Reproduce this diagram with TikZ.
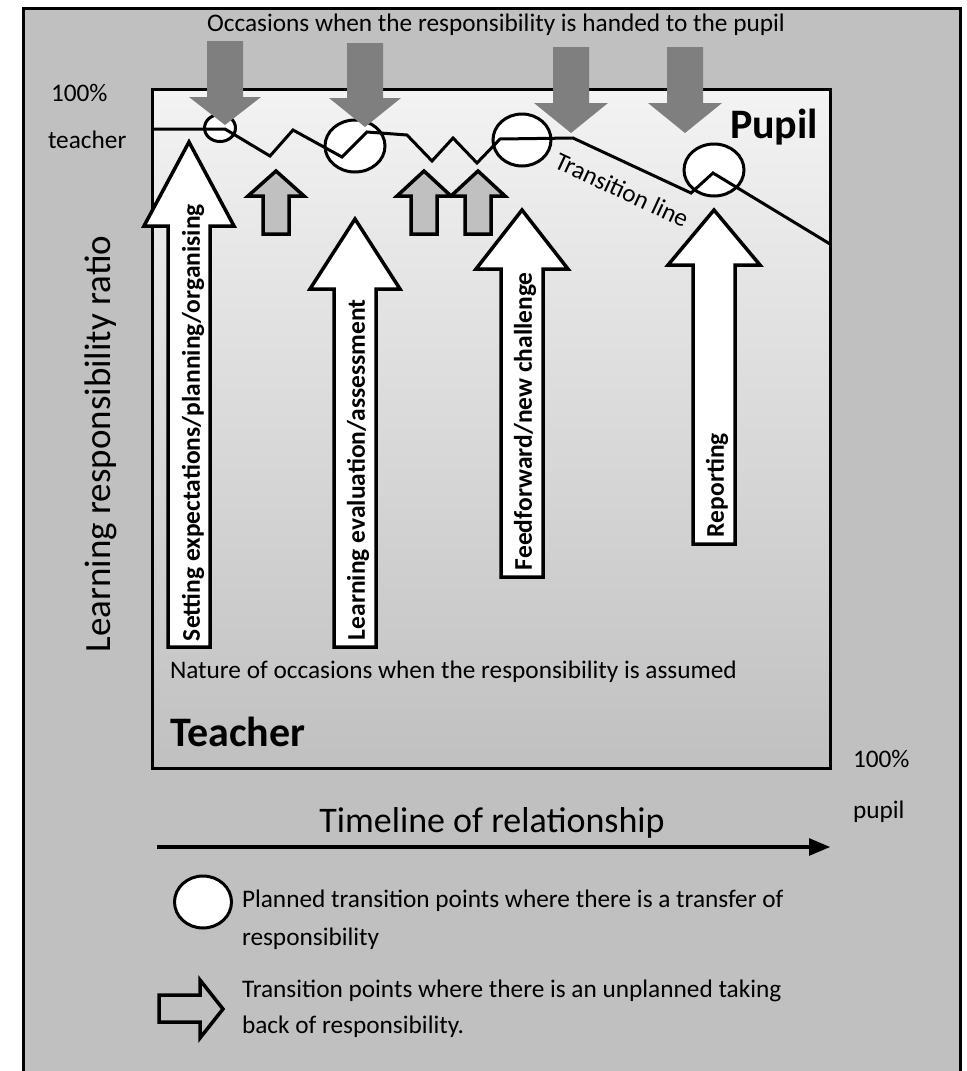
\documentclass[tikz,border=0pt]{standalone}
\usepackage{fontspec}
\setmainfont{Carlito}
\usepackage{tikz}
\usetikzlibrary{shapes,arrows}
\definecolor{bgGrey}{RGB}{192,192,192}
\definecolor{handGrey}{RGB}{127,127,127}
\definecolor{topGrey}{RGB}{243,243,243}

\begin{document}
\begin{tikzpicture}[x=1bp, y=-1bp, line join=miter]%
  \tikzset{hand arrow/.style={fill=handGrey, draw=none},
    back arrow/.style={fill=bgGrey, draw=black, line width=3.5bp},
    occasion arrow/.style={fill=white, draw=black, line width=3.5bp},
    transition point/.style={ellipse, draw=black, fill=white, line width=3bp, inner sep=0pt},
    big label/.style={font=\fontsize{42bp}{50bp}\selectfont\bfseries},
    arrow label/.style={rotate=90, anchor=west, font=\fontsize{25.5bp}{30bp}\selectfont\bfseries}}
  \tikzstyle{every node}=[inner sep=0pt, outer sep=0pt, text=black, font=\fontsize{25.3bp}{30bp}\selectfont]

  \useasboundingbox (0,0) rectangle (967,1071);
  \path[fill=bgGrey, draw=black, line width=3bp] (23,8) rectangle (960,1100);
  \path[top color=topGrey, bottom color=bgGrey, draw=black, line width=3bp] (152,89) rectangle (830,768);

  % planned transition points
  \node[transition point, minimum width=31bp, minimum height=27bp] (c1) at (220,128) {};
  \node[transition point, minimum width=60bp, minimum height=52bp] (c2) at (355,146) {};
  \node[transition point, minimum width=58bp, minimum height=52bp] (c3) at (522,140) {};
  \node[transition point, minimum width=60bp, minimum height=52bp] (c4) at (714,170) {};

  % transition line
  \draw[line width=3bp] (152,129) -- (225,129) -- (270,156) -- (293,130) -- (342,157) -- (367,132)
    -- (407,135) -- (432,161) -- (453,138) -- (477,163) -- (500,139) -- (573,138)
    -- (691,193) -- (713,173) -- (830,244);
  \node[rotate=-25] (TL) at (622,190) {Transition line};

  % handed to the pupil
  \node[anchor=base] (handed) at (496,31) {Occasions when the responsibility is handed to the pupil};
  \path[hand arrow] (207,41) -- (243,41) -- (243,97) -- (261,97) -- (225,125) -- (189,97) -- (207,97) -- cycle;
  \path[hand arrow] (347,43) -- (383,43) -- (383,98) -- (401,98) -- (365,127) -- (329,98) -- (347,98) -- cycle;
  \path[hand arrow] (553,47) -- (589,47) -- (589,103) -- (608,103) -- (571,133) -- (534,103) -- (553,103) -- cycle;
  \path[hand arrow] (667,47) -- (703,47) -- (703,103) -- (722,103) -- (685,133) -- (648,103) -- (667,103) -- cycle;

  % unplanned taking back
  \path[back arrow] (263,234) -- (263,196) -- (248,196) -- (276,171) -- (304,196) -- (289,196) -- (289,234) -- cycle;
  \path[back arrow] (411,234) -- (411,196) -- (397,196) -- (424,171) -- (451,196) -- (437,196) -- (437,234) -- cycle;
  \path[back arrow] (465,234) -- (465,196) -- (451,196) -- (478,171) -- (505,196) -- (491,196) -- (491,234) -- cycle;

  % occasions when the responsibility is assumed
  \path[occasion arrow] (168,647) -- (168,226) -- (144,226) -- (189,142) -- (234,226) -- (210,226) -- (210,647) -- cycle;
  \path[occasion arrow] (334,647) -- (334,289) -- (310,289) -- (355,219) -- (400,289) -- (376,289) -- (376,647) -- cycle;
  \path[occasion arrow] (501,577) -- (501,269) -- (476,269) -- (522,210) -- (568,269) -- (543,269) -- (543,577) -- cycle;
  \path[occasion arrow] (693,544) -- (693,265) -- (668,265) -- (714,210) -- (760,265) -- (735,265) -- (735,544) -- cycle;
  \node[arrow label] (setting) at (193,641) {Setting expectations/planning/organising};
  \node[arrow label] (evaluation) at (358,640) {Learning evaluation/assessment};
  \node[arrow label] (feedforward) at (525,570) {Feedforward/new challenge};
  \node[arrow label] (reporting) at (717,537) {Reporting};

  \node[anchor=base west] (nature) at (170,678) {Nature of occasions when the responsibility is assumed};
  \node[big label, anchor=base west] (pupil) at (730,138) {Pupil};
  \node[big label, anchor=base west] (teacher) at (170,746) {Teacher};

  % axes
  \node[rotate=90, font=\fontsize{37bp}{44bp}\selectfont] (ratio) at (101,444) {Learning responsibility ratio};
  \node[anchor=base west] (top100) at (51,101) {100\%};
  \node[anchor=base west] (topteacher) at (48,148) {teacher};
  \node[anchor=base west] (bottom100) at (853,767) {100\%};
  \node[anchor=base west] (bottompupil) at (853,818) {pupil};
  \node[anchor=base, font=\fontsize{36bp}{43bp}\selectfont] (timeline) at (492,832) {Timeline of relationship};
  \coordinate (tl0) at (157,847);
  \coordinate (tl1) at (830,847);
  \draw[-triangle 45, line width=4bp] (tl0) -- (tl1);

  % legend
  \node[transition point, minimum width=57bp, minimum height=52bp] (lc) at (203,902) {};
  \node[anchor=base west] (planned1) at (242,907) {Planned transition points where there is a transfer of};
  \node[anchor=base west] (planned2) at (242,945) {responsibility};
  \path[back arrow] (159,995) -- (200,995) -- (200,980) -- (223,1009) -- (200,1038) -- (200,1022) -- (159,1022) -- cycle;
  \node[anchor=base west] (unplanned1) at (242,997) {Transition points where there is an unplanned taking};
  \node[anchor=base west] (unplanned2) at (242,1033) {back of responsibility.};
\end{tikzpicture}
\end{document}
